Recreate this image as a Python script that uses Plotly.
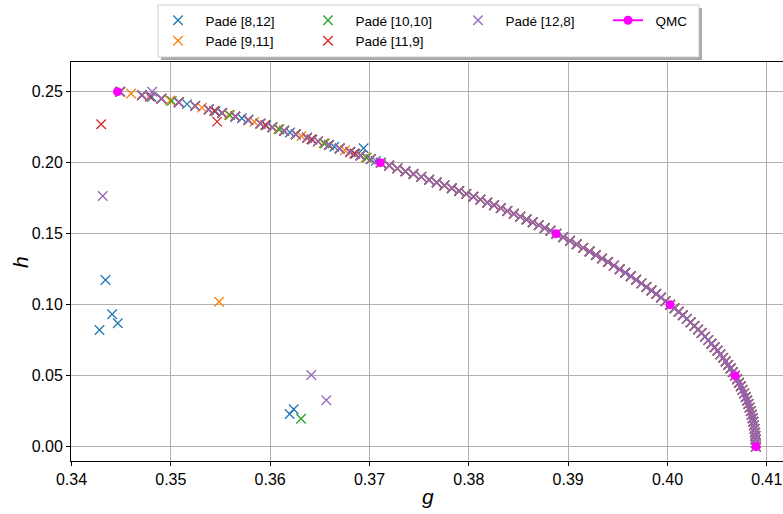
import plotly.graph_objects as go

# ---- shared curve where all Padé approximants coincide (g, h) ----
curve_h = [0.0, 0.0025, 0.005, 0.0075, 0.01, 0.0125, 0.015, 0.0175, 0.02, 0.0225,
           0.025, 0.0275, 0.03, 0.0325, 0.035, 0.0375, 0.04, 0.0425, 0.045, 0.0475,
           0.05, 0.0525, 0.055, 0.0575, 0.06, 0.0625, 0.065, 0.0675, 0.07, 0.0725,
           0.075, 0.0775, 0.08, 0.0825, 0.085, 0.0875, 0.09, 0.0925, 0.095, 0.0975,
           0.10, 0.1025, 0.105, 0.1075, 0.11, 0.1125, 0.115, 0.1175, 0.12, 0.1225,
           0.125, 0.1275, 0.13, 0.1325, 0.135, 0.1375, 0.14, 0.1425, 0.145, 0.1475,
           0.15, 0.152, 0.154, 0.156, 0.158, 0.160, 0.162, 0.164, 0.166, 0.168,
           0.170, 0.172, 0.174, 0.176, 0.178, 0.180, 0.182, 0.184, 0.186, 0.188,
           0.190, 0.192, 0.194, 0.196, 0.198, 0.200, 0.2025, 0.205, 0.2075, 0.21,
           0.2125, 0.215, 0.2175, 0.22, 0.2225, 0.225, 0.2275, 0.23, 0.2325, 0.235,
           0.2375, 0.24, 0.2425, 0.245, 0.2475, 0.25]
curve_g = [0.40890, 0.40889, 0.40888, 0.40885, 0.40882, 0.40877, 0.40871, 0.40865, 0.40857, 0.40848,
           0.40838, 0.40827, 0.40815, 0.40802, 0.40788, 0.40772, 0.40756, 0.40739, 0.40720, 0.40701,
           0.40680, 0.40658, 0.40635, 0.40611, 0.40586, 0.40560, 0.40532, 0.40504, 0.40474, 0.40443,
           0.40411, 0.40378, 0.40343, 0.40308, 0.40271, 0.40233, 0.40194, 0.40154, 0.40113, 0.40070,
           0.40026, 0.39981, 0.39935, 0.39887, 0.39839, 0.39788, 0.39737, 0.39684, 0.39630, 0.39575,
           0.39518, 0.39460, 0.39401, 0.39341, 0.39279, 0.39216, 0.39152, 0.39086, 0.39019, 0.38950,
           0.38881, 0.38823, 0.38764, 0.38704, 0.38643, 0.38581, 0.38518, 0.38453, 0.38388, 0.38322,
           0.38254, 0.38186, 0.38117, 0.38046, 0.37975, 0.37903, 0.37829, 0.37754, 0.37677, 0.37600,
           0.37522, 0.37443, 0.37362, 0.37280, 0.37198, 0.37114, 0.37013, 0.36910, 0.36806, 0.36700,
           0.36592, 0.36482, 0.36371, 0.36258, 0.36141, 0.36022, 0.35902, 0.35780, 0.35649, 0.35517,
           0.35382, 0.35245, 0.35080, 0.34906, 0.34709, 0.34490]

# ---- series-specific points (near-curve scatter and outliers) ----
p8_12_g = [0.37064, 0.36858, 0.36646, 0.36427, 0.36200, 0.35962, 0.35715, 0.35450, 0.35163, 0.34808,
           0.36941, 0.34342, 0.34409, 0.34466, 0.34282, 0.36196, 0.36237]
p8_12_h = [0.20125, 0.20625, 0.21125, 0.21625, 0.22125, 0.22625, 0.23125, 0.23625, 0.24125, 0.24625,
           0.2101, 0.1174, 0.0932, 0.0869, 0.0822, 0.0230, 0.0263]
p9_11_g = [0.36962, 0.36753, 0.36537, 0.36315, 0.36082, 0.35841, 0.35583, 0.35314, 0.34993, 0.34600,
           0.35486]
p9_11_h = [0.20375, 0.20875, 0.21375, 0.21875, 0.22375, 0.22875, 0.23375, 0.23875, 0.24375, 0.24875,
           0.1021]
p10_10_g = [0.36972, 0.36548, 0.36093, 0.35596, 0.35010, 0.36311]
p10_10_h = [0.2035, 0.2135, 0.2235, 0.2335, 0.2435, 0.0197]
p11_9_g = [0.36848, 0.36415, 0.35950, 0.35436, 0.34788, 0.35466, 0.34299]
p11_9_h = [0.2065, 0.2165, 0.2265, 0.2365, 0.2465, 0.2289, 0.2270]
p12_8_g = [0.34812, 0.34315, 0.36414, 0.36565]
p12_8_h = [0.2500, 0.1765, 0.0505, 0.0327]

qmc_g = [0.34463, 0.37109, 0.38879, 0.40026, 0.40680, 0.40891]
qmc_h = [0.25, 0.20, 0.15, 0.10, 0.05, 0.0]

series_names = ["Padé [8,12]", "Padé [9,11]", "Padé [10,10]", "Padé [11,9]", "Padé [12,8]"]
series_colors = ["#1f77b4", "#ff7f0e", "#2ca02c", "#d62728", "#9467bd"]
series_extra = [(p8_12_g, p8_12_h), (p9_11_g, p9_11_h), (p10_10_g, p10_10_h),
                (p11_9_g, p11_9_h), (p12_8_g, p12_8_h)]
legend_ranks = [1, 5, 2, 6, 3]

x_ticks = [0.34, 0.35, 0.36, 0.37, 0.38, 0.39, 0.40, 0.41]
x_ticklabels = ["0.34", "0.35", "0.36", "0.37", "0.38", "0.39", "0.40", "0.41"]
y_ticks = [0.0, 0.05, 0.10, 0.15, 0.20, 0.25]
y_ticklabels = ["0.00", "0.05", "0.10", "0.15", "0.20", "0.25"]

FONT = "Liberation Sans"
PAD = "\u00a0\u00a0"

fig = go.Figure()

for name, col, (eg, eh), rk in zip(series_names, series_colors, series_extra, legend_ranks):
    fig.add_trace(go.Scatter(x=curve_g + eg, y=curve_h + eh, mode="markers", name=PAD + name,
                             marker=dict(symbol="x-thin", size=9.5,
                                         line=dict(color=col, width=1.3), color=col),
                             legendrank=rk))

# QMC markers on top
fig.add_trace(go.Scatter(x=qmc_g, y=qmc_h, mode="markers", showlegend=False,
                         marker=dict(color="#ff00ff", size=9, symbol="circle")))
# legend entry for QMC (line + marker handle)
fig.add_trace(go.Scatter(x=[None], y=[None], mode="lines+markers", name=PAD + "QMC",
                         line=dict(color="#ff00ff", width=2),
                         marker=dict(color="#ff00ff", size=9, symbol="circle"),
                         legendrank=4))

axis_common = dict(showgrid=True, gridcolor="#b0b0b0", gridwidth=1, zeroline=False,
                   showline=True, linecolor="black", linewidth=1,
                   ticks="outside", ticklen=4, tickwidth=1, tickcolor="black",
                   tickfont=dict(family=FONT, size=16, color="black"))

# legend frame with shadow (paper coordinates)
shapes = [
    dict(type="rect", xref="paper", yref="paper", x0=0.1264, x1=0.8862, y0=1.0050, y1=1.1353,
         fillcolor="#a8a8a8", line=dict(width=0), layer="above"),
    dict(type="rect", xref="paper", yref="paper", x0=0.1222, x1=0.8820, y0=1.0125, y1=1.1429,
         fillcolor="white", line=dict(color="#cccccc", width=1), layer="above"),
]

# axis titles
annotations = [
    dict(text="<i>g</i>", xref="paper", yref="paper", x=0.5014, y=-0.0902,
         xanchor="center", yanchor="middle", showarrow=False,
         font=dict(family=FONT, size=21, color="black")),
    dict(text="<i>h</i>", xref="paper", yref="paper", x=-0.0716, y=0.4987,
         xanchor="center", yanchor="middle", showarrow=False, textangle=-90,
         font=dict(family=FONT, size=21, color="black")),
]

fig.update_layout(
    width=783, height=514,
    margin=dict(l=71, r=0, t=62, b=53, autoexpand=False),
    paper_bgcolor="white", plot_bgcolor="white",
    font=dict(family=FONT, color="black"),
    shapes=shapes,
    annotations=annotations,
    xaxis=dict(range=[0.33995, 0.41163], tickvals=x_ticks, ticktext=x_ticklabels,
               mirror=True, **axis_common),
    yaxis=dict(range=[-0.0101, 0.2709], tickvals=y_ticks, ticktext=y_ticklabels,
               **axis_common),
    legend=dict(orientation="h", x=0.1222, y=1.1429, xanchor="left", yanchor="top",
                entrywidth=105, entrywidthmode="pixels",
                bgcolor="rgba(0,0,0,0)", borderwidth=0,
                font=dict(family=FONT, size=13.5, color="black")),
    showlegend=True,
)

fig.write_html("out.html")
